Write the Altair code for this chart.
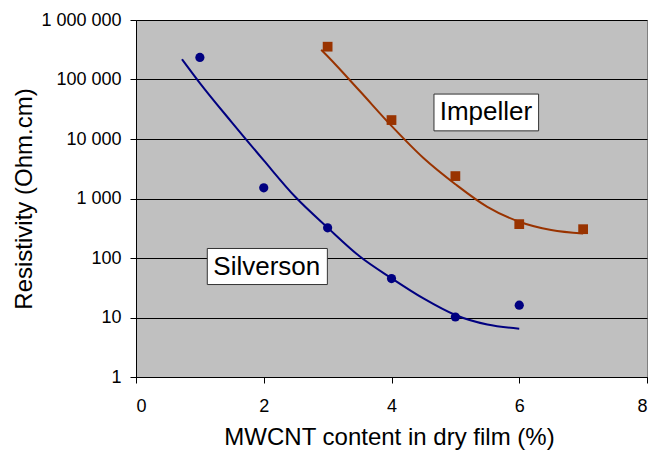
import altair as alt
import pandas as pd

# measured points
x_pts_silverson = [1, 2, 3, 4, 5, 6]
y_pts_silverson = [235000, 1510, 321, 45.2, 10.2, 16.1]
x_pts_impeller = [3, 4, 5, 6, 7]
y_pts_impeller = [356000, 20800, 2380, 371, 305]

# trend curves
x_fit_silverson = [0.72, 1, 1.5, 2, 2.5, 3, 3.5, 4, 4.5, 5, 5.5, 6]
y_fit_silverson = [218800, 87100, 19050, 4365, 1047, 324, 107, 45.7, 20.9, 11.0, 7.6, 6.5]
x_fit_impeller = [2.9, 3, 3.5, 4, 4.5, 5, 5.5, 6, 6.5, 7]
y_fit_impeller = [316000, 245500, 64600, 16600, 4790, 1740, 724, 407, 295, 257]

# axes
y_tick_values = [1, 10, 100, 1000, 10000, 100000, 1000000]
y_tick_labels = ["1", "10", "100", "1 000", "10 000", "100 000", "1 000 000"]
x_tick_values = [0, 2, 4, 6, 8]

# in-plot labels (data coordinates)
label_text = ["Silverson", "Impeller"]
label_x = [2.048, 5.479]
label_y = [51.4, 20800]
box_x = [1.116, 4.665]
box_x2 = [2.996, 6.303]
box_y = [144.5, 56900]
box_y2 = [35.8, 13700]

FONT = "Liberation Sans"
NAVY = "#000080"
BROWN = "#993300"

pts_s = pd.DataFrame({"x": x_pts_silverson, "y": y_pts_silverson})
pts_i = pd.DataFrame({"x": x_pts_impeller, "y": y_pts_impeller})
fit_s = pd.DataFrame({"x": x_fit_silverson, "y": y_fit_silverson})
fit_i = pd.DataFrame({"x": x_fit_impeller, "y": y_fit_impeller})
labels = pd.DataFrame({"text": label_text, "x": label_x, "y": label_y,
                       "bx": box_x, "bx2": box_x2, "by": box_y, "by2": box_y2})

label_expr = " : ".join(
    f"round(datum.value) == {v} ? '{t}'" for v, t in zip(y_tick_values, y_tick_labels)
) + " : ''"

x_scale = alt.Scale(domain=[0, 8], nice=False, zero=False)
y_scale = alt.Scale(type="log", domain=[1, 1000000], nice=False)

x_axis = alt.Axis(
    values=x_tick_values, title="MWCNT content in dry film (%)", grid=False,
    tickSize=6, tickColor="black", domainColor="black", labelColor="black",
    labelFont=FONT, labelFontSize=18, labelPadding=14,
    titleFont=FONT, titleFontSize=24, titleFontWeight="normal", titleColor="black",
    titleX=253, titleY=67, titleBaseline="alphabetic", titleAlign="center",
)
y_axis = alt.Axis(
    values=y_tick_values, labelExpr=label_expr, title="Resistivity (Ohm.cm)",
    grid=True, gridColor="black", gridWidth=1, gridOpacity=1,
    tickSize=6, tickColor="black", domainColor="black", labelColor="black",
    labelFont=FONT, labelFontSize=18, labelPadding=9,
    titleFont=FONT, titleFontSize=24, titleFontWeight="normal", titleColor="black",
    titleX=-105, titleY=178.5, titleAngle=270, titleBaseline="alphabetic", titleAlign="center",
)

def X(field="x"):
    return alt.X(f"{field}:Q", scale=x_scale, axis=x_axis)

def Y(field="y"):
    return alt.Y(f"{field}:Q", scale=y_scale, axis=y_axis)

line_s = alt.Chart(fit_s).mark_line(color=NAVY, strokeWidth=2, interpolate="monotone").encode(x=X(), y=Y())
line_i = alt.Chart(fit_i).mark_line(color=BROWN, strokeWidth=2, interpolate="monotone").encode(x=X(), y=Y())
dots_s = alt.Chart(pts_s).mark_point(shape="circle", filled=True, opacity=1, color=NAVY, size=85).encode(x=X(), y=Y())
dots_i = alt.Chart(pts_i).mark_point(shape="square", filled=True, opacity=1, color=BROWN, size=95).encode(x=X(), y=Y())
boxes = alt.Chart(labels).mark_rect(fill="white", stroke="#333333", strokeWidth=1).encode(
    x=X("bx"), x2="bx2", y=Y("by"), y2="by2")
texts = alt.Chart(labels).mark_text(font=FONT, fontSize=26, color="black", align="center",
                                    baseline="alphabetic").encode(
    x=X(), y=Y(), text="text:N")

chart = alt.layer(line_s, line_i, dots_s, dots_i, boxes, texts).properties(
    width=511, height=357,
    autosize=alt.AutoSizeParams(type="none"),
    padding={"left": 128, "top": 12, "right": 3, "bottom": 75},
    background="white",
).configure_view(fill="#C0C0C0", stroke="#808080", strokeWidth=1)

chart.save("out.html", embed_options={"renderer": "svg", "actions": False})
